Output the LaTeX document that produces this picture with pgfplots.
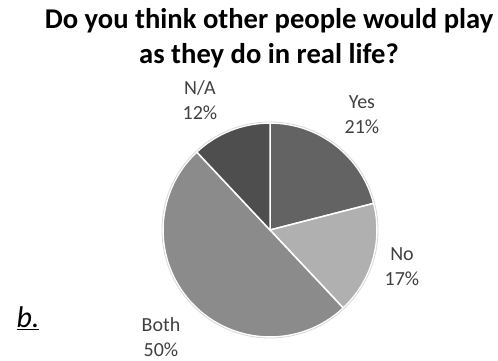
\documentclass[border=0pt]{standalone}
\usepackage{pgfplots}
\pgfplotsset{compat=1.18}
\usepackage{pgfplotstable}
\usepackage{fontspec}
\setmainfont{Carlito}
\definecolor{cYes}{HTML}{636363}
\definecolor{cNo}{HTML}{B0B0B0}
\definecolor{cBoth}{HTML}{8B8B8B}
\definecolor{cNA}{HTML}{4E4E4E}
\definecolor{lbl}{HTML}{404040}
\pgfplotstableread[col sep=comma]{
label,value,col,lx,ly
Yes,21,cYes,362,245
No,17,cNo,402,93
Both,50,cBoth,161,23
N/A,12,cNA,200,260
}\piedata
\tikzset{lblstyle/.style={align=center,text=lbl,inner sep=0pt,font=\fontsize{20}{25}\selectfont}}
\begin{document}
\begin{tikzpicture}
\begin{axis}[width=498pt,height=360pt,scale only axis,xmin=0,xmax=498,ymin=0,ymax=360,hide axis,clip=false]
\path (axis cs:0,0) rectangle (axis cs:498,360);
\def\a{90}
\pgfplotsforeachungrouped \i in {0,...,3}{%
  \pgfplotstablegetelem{\i}{value}\of\piedata \let\v\pgfplotsretval
  \pgfplotstablegetelem{\i}{col}\of\piedata \let\c\pgfplotsretval
  \pgfplotstablegetelem{\i}{label}\of\piedata \let\lab\pgfplotsretval
  \pgfplotstablegetelem{\i}{lx}\of\piedata \let\lx\pgfplotsretval
  \pgfplotstablegetelem{\i}{ly}\of\piedata \let\ly\pgfplotsretval
  \pgfmathsetmacro\b{\a-3.6*\v}%
  \edef\temp{\noexpand\fill[fill=\c,draw=white,line width=1.5pt,line join=round] (axis cs:270,130) -- ++(\a:107pt) arc[start angle=\a,end angle=\b,radius=107pt] -- cycle;}\temp
  \edef\temp{\noexpand\node[lblstyle] at (axis cs:\lx,\ly) {\lab\noexpand\\\v\noexpand\%};}\temp
  \let\a\b
}
\draw[gray!30,line width=0.8pt] (axis cs:270,130) circle[radius=108pt];
\node[align=center,inner sep=0pt,font=\bfseries\fontsize{28.6}{35}\selectfont] at (axis cs:269,322) {Do you think other people would play\\as they do in real life?};
\node[font=\itshape\fontsize{30}{34}\selectfont] at (axis cs:28,42) {\underline{b.}};
\end{axis}
\end{tikzpicture}
\end{document}
